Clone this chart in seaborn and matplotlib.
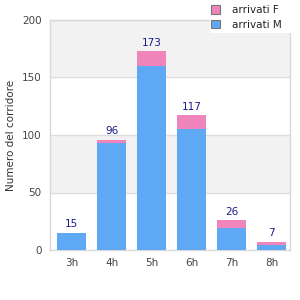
import seaborn as sns
import matplotlib.pyplot as plt
import pandas as pd
from matplotlib.patches import Rectangle

# -------------- DONNEES -------------------#

ore = ['3h', '4h', '5h', '6h', '7h', '8h']
arrivati_m = [15, 93, 160, 105, 19, 4]
arrivati_f = [0, 3, 13, 12, 7, 3]
totali = [m + f for m, f in zip(arrivati_m, arrivati_f)]

col_m = '#5fa8f3'
col_f = '#f085bb'

# -------------- GRAFICO -------------------#

sns.set_theme(style='white')
plt.rcParams['font.family'] = ['DejaVu Sans']

df = pd.DataFrame({'ora': ore, 'M': arrivati_m, 'tot': totali})

fig = plt.figure(figsize=(3, 3), dpi=100)
ax = fig.add_axes([50 / 300, 50 / 300, 240 / 300, 230 / 300])

# bande alternate
for lo in (50, 150):
    ax.axhspan(lo, lo + 50, color='#f2f2f2', zorder=0, lw=0)
for y in (50, 100, 150, 200):
    ax.axhline(y, color='#dddddd', lw=1, zorder=0.5)

sns.barplot(data=df, x='ora', y='tot', color=col_f, width=0.73,
            saturation=1, ax=ax, zorder=2, linewidth=0, edgecolor='none')
sns.barplot(data=df, x='ora', y='M', color=col_m, width=0.73,
            saturation=1, ax=ax, zorder=3, linewidth=0, edgecolor='none')

for i, t in enumerate(totali):
    ax.text(i, t + 3, str(t), ha='center', va='bottom',
            fontsize=7.5, color='#1a1a8c', zorder=4)

ax.set_ylim(0, 200)
ax.set_xlim(-0.54, 5.46)
ax.set_yticks([0, 50, 100, 150, 200])
ax.set_xlabel('')
ax.set_ylabel('Numero del corridore', fontsize=7.5, color='#333333')
ax.tick_params(axis='both', labelsize=7.5, colors='#444444', length=0, pad=6)

for s in ['top', 'right', 'left', 'bottom']:
    ax.spines[s].set_color('#d8d8d8')
    ax.spines[s].set_linewidth(1)

# fondo bianco della legenda
fig.patches.append(Rectangle((210 / 300, 1 - 33 / 300), 90 / 300, 33 / 300,
                             transform=fig.transFigure, facecolor='white',
                             edgecolor='none', zorder=9))

handles = [Rectangle((0, 0), 1, 1, facecolor=col_f, edgecolor='#777777', lw=0.8),
           Rectangle((0, 0), 1, 1, facecolor=col_m, edgecolor='#777777', lw=0.8)]
leg = fig.legend(handles, ['arrivati F', 'arrivati M'], loc='upper right',
                 bbox_to_anchor=(0.955, 1.0), fontsize=7.5, frameon=False,
                 handlelength=0.85, handleheight=0.85, handletextpad=1.1,
                 borderpad=0.4, labelspacing=0.45, borderaxespad=0.1)
for t in leg.get_texts():
    t.set_color('#222222')
leg.set_zorder(10)

plt.savefig('out.png', dpi=100)
plt.close()
